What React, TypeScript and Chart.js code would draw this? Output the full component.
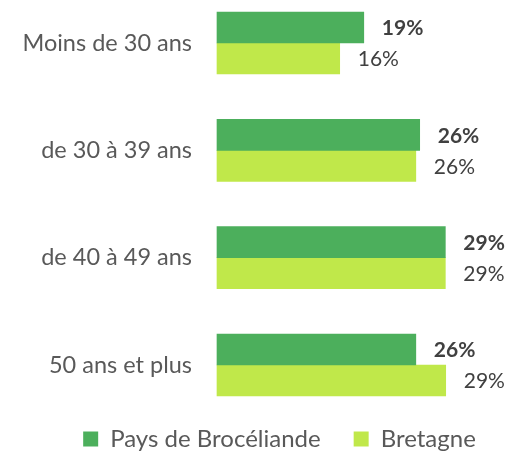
import React, { useEffect, useRef } from "react";
import { Chart, registerables } from "chart.js";

Chart.register(...registerables);

const categories = ["Moins de 30 ans", "de 30 à 39 ans", "de 40 à 49 ans", "50 ans et plus"];
const seriesNames = ["Pays de Brocéliande", "Bretagne"];
const paysValues = [18.9, 26.1, 29.4, 25.6];
const bretagneValues = [15.8, 25.6, 29.4, 29.45];
const seriesColors = ["#4CAF5C", "#C0E84A"];

const FONT = "Lato, 'Open Sans', sans-serif";

const valueLabels = {
  id: "valueLabels",
  afterDatasetsDraw(chart: any) {
    const ctx = chart.ctx;
    ctx.save();
    chart.data.datasets.forEach((ds: any, di: number) => {
      const meta = chart.getDatasetMeta(di);
      meta.data.forEach((bar: any, i: number) => {
        const v = ds.data[i];
        ctx.font = (di === 0 ? "bold " : "") + "21px " + FONT;
        ctx.fillStyle = "#404040";
        ctx.textAlign = "left";
        ctx.textBaseline = "middle";
        ctx.fillText(Math.round(v) + "%", bar.x + 18, bar.y + 1);
      });
    });
    ctx.restore();
  },
};

const legendShift = {
  id: "legendShift",
  afterLayout(chart: any) {
    const lg = chart.legend;
    if (lg) lg.left += 43;
  },
};

export default function App() {
  const ref = useRef<HTMLCanvasElement | null>(null);
  useEffect(() => {
    if (!ref.current) return;
    const chart = new Chart(ref.current, {
      type: "bar",
      data: {
        labels: categories,
        datasets: [
          {
            label: seriesNames[0],
            data: paysValues,
            backgroundColor: seriesColors[0],
            barThickness: 31,
            clip: false,
          } as any,
          {
            label: seriesNames[1],
            data: bretagneValues,
            backgroundColor: seriesColors[1],
            barThickness: 31,
            clip: false,
          } as any,
        ],
      },
      options: {
        indexAxis: "y",
        animation: false,
        responsive: false,
        layout: { padding: { top: 43, left: 0, right: 0, bottom: 0 } },
        scales: {
          x: {
            min: 0,
            max: 38.5,
            display: true,
            grid: { display: false, drawTicks: false },
            border: { display: false },
            ticks: { display: false },
            afterFit: (s: any) => {
              s.height = 29;
            },
          },
          y: {
            offset: false,
            grid: { display: false, drawTicks: false },
            border: { display: false },
            ticks: {
              padding: 25,
              color: "#595959",
              font: { family: FONT, size: 23.5 },
            },
            afterFit: (s: any) => {
              s.width = 217;
            },
          },
        },
        plugins: {
          legend: {
            position: "bottom",
            maxHeight: 63,
            labels: {
              boxWidth: 15,
              boxHeight: 15,
              padding: 33,
              color: "#595959",
              font: { family: FONT, size: 24 },
            },
          },
          tooltip: { enabled: false },
        },
      },
      plugins: [valueLabels, legendShift],
    });
    return () => chart.destroy();
  }, []);
  return (
    <canvas
      ref={ref}
      width={516}
      height={457}
      style={{ position: "absolute", left: 0, top: 0, width: 516, height: 457 }}
    />
  );
}
